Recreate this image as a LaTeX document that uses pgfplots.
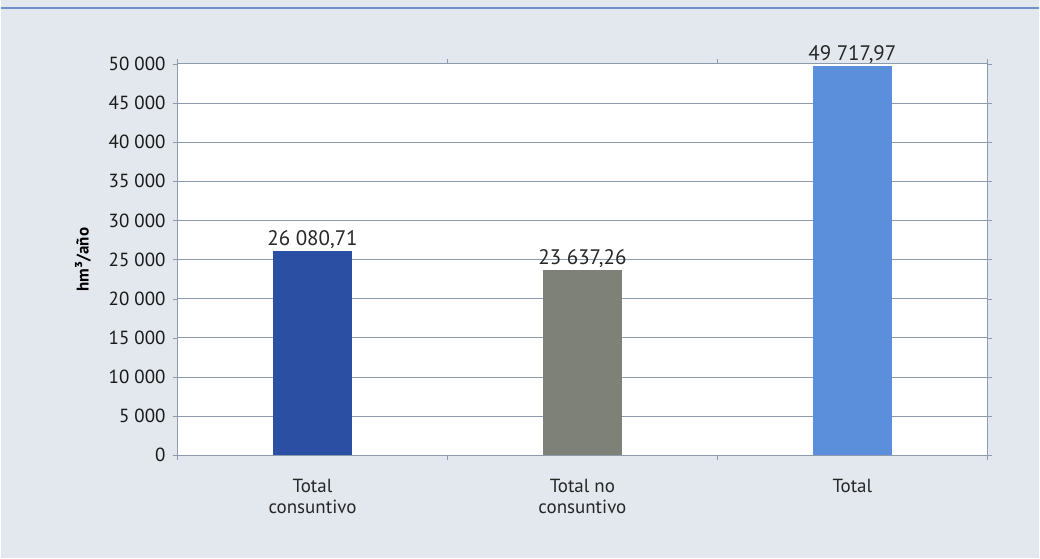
\documentclass[border=0pt]{standalone}
\usepackage{pgfplots}
\pgfplotsset{compat=1.18}
\usepackage{fontspec}
\setmainfont{PT Sans}
\definecolor{bgc}{HTML}{E2E8ED}
\definecolor{gridc}{HTML}{8C9BAE}
\definecolor{barA}{HTML}{2B4FA2}
\definecolor{barB}{HTML}{7E8178}
\definecolor{barC}{HTML}{5C8FDB}
\definecolor{topline}{HTML}{6E8FC8}
\begin{document}
\begin{tikzpicture}
\fill[bgc] (0,0) rectangle (520pt,279.5pt);
\draw[topline,line width=0.8pt] (0,275.5pt) -- (520pt,275.5pt);
\begin{axis}[
  at={(88.5pt,51.5pt)}, anchor=south west,
  width=405.5pt, height=196pt, scale only axis,
  axis background/.style={fill=white},
  xmin=-0.5, xmax=2.5, ymin=0, ymax=50000,
  scaled y ticks=false,
  ytick={0,5000,...,50000},
  yticklabels={0,5 000,10 000,15 000,20 000,25 000,30 000,35 000,40 000,45 000,50 000},
  xtick={0,1,2},
  xticklabels={Total\\consuntivo,Total no\\consuntivo,Total},
  xticklabel style={align=center, font=\fontsize{9.5}{10.5}\selectfont, text=black!85, yshift=-6pt},
  yticklabel style={font=\fontsize{9.5}{11}\selectfont, text=black!90},
  xtick style={draw=none},
  minor xtick={-0.5,0.5,1.5,2.5},
  minor x tick style={draw=gridc},
  ytick style={draw=gridc},
  tick align=outside,
  major tick length=2.5pt, minor tick length=2.5pt,
  ymajorgrids,
  grid style={gridc, line width=0.5pt},
  axis line style={gridc, line width=0.5pt},
  ylabel={\textbf{hm³/año}},
  ylabel style={font=\fontsize{8.5}{9}\selectfont, yshift=2pt},
  /pgf/number format/assume math mode=true,
  ybar, bar width=0.295,
  point meta=explicit symbolic,
  nodes near coords,
  nodes near coords style={font=\fontsize{10.5}{12}\selectfont, text=black!85, inner sep=1pt},
]
\addplot[fill=barA, draw=none, bar shift=0pt] coordinates {(0,26080.71) [26 080,71]};
\addplot[fill=barB, draw=none, bar shift=0pt] coordinates {(1,23637.26) [23 637,26]};
\addplot[fill=barC, draw=none, bar shift=0pt] coordinates {(2,49717.97) [49 717,97]};
\end{axis}
\end{tikzpicture}
\end{document}
